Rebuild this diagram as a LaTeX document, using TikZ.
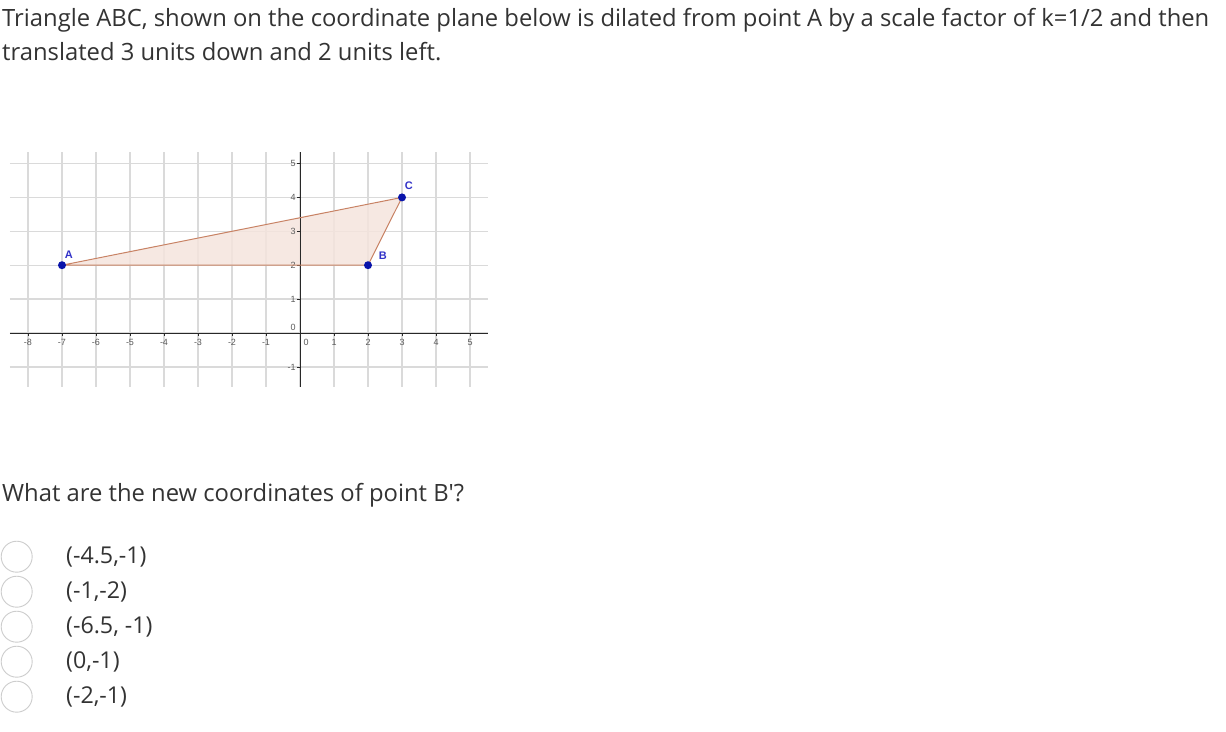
\documentclass[tikz,border=0pt]{standalone}
\usepackage{fontspec}
\setmainfont{Open Sans}
\newfontfamily\gfont{Liberation Sans}
\definecolor{txt}{RGB}{51,51,51}
\definecolor{gridc}{RGB}{218,218,218}
\definecolor{axisc}{RGB}{40,40,40}
\definecolor{trifill}{RGB}{245,228,221}
\definecolor{triline}{RGB}{200,130,100}
\definecolor{ptc}{RGB}{10,20,170}
\definecolor{ptlab}{RGB}{50,50,200}
\definecolor{circc}{RGB}{205,205,205}
\tikzset{
  maintext/.style={anchor=base west,inner sep=0pt,text=txt,font=\fontsize{23.8}{28}\selectfont},
  opttext/.style={anchor=west,inner sep=0pt,text=txt,font=\fontsize{23.2}{28}\selectfont},
  radio/.style={circle,draw=circc,line width=0.9pt,minimum size=31pt,inner sep=0pt},
  gridline/.style={draw=gridc,line width=1.3pt},
  axisline/.style={draw=axisc,line width=1pt},
  ticklab/.style={text=txt!80,font=\gfont\fontsize{9}{10}\selectfont,inner sep=0pt},
  ptdot/.style={circle,fill=ptc,minimum size=8pt,inner sep=0pt},
  ptname/.style={text=ptlab,font=\gfont\bfseries\fontsize{11}{12}\selectfont,inner sep=0pt},
}
\begin{document}
\begin{tikzpicture}[x=1pt,y=-1pt]
\useasboundingbox[fill=white] (0,0) rectangle (1226,731);
% header text
\node[maintext] (l1) at (2,26) {Triangle ABC, shown on the coordinate plane below is dilated from point A by a scale factor of k=1/2 and then};
\node[maintext] (l2) at (2,60) {translated 3 units down and 2 units left.};
% graph
\begin{scope}[shift={(300,333)},x=34pt,y=33.9pt]
  \foreach \i in {-8,...,5} \draw[gridline] (\i,-1.59) -- (\i,5.34);
  \foreach \j in {-1,...,5} \draw[gridline] (-8.53,\j) -- (5.53,\j);
  \coordinate (A) at (-7,2);
  \coordinate (B) at (2,2);
  \coordinate (C) at (3,4);
  \fill[trifill,opacity=0.85] (A) -- (B) -- (C) -- cycle;
  \draw[axisline] (-8.53,0) -- (5.53,0);
  \draw[axisline] (0,-1.59) -- (0,5.34);
  \foreach \i in {-8,...,-1,1,2,3,4,5} {
    \draw[axisc,line width=0.6pt] (\i,0) -- (\i,-0.08);
    \node[ticklab] at (\i,-0.27) {\i};
  }
  \node[ticklab] at (0.18,-0.27) {0};
  \foreach \j in {-1,1,2,3,4,5} {
    \draw[axisc,line width=0.6pt] (0,\j) -- (-0.09,\j);
    \node[ticklab,anchor=east] at (-0.12,\j) {\j};
  }
  \node[ticklab,anchor=east] at (-0.12,0.16) {0};
  \draw[triline,line width=1pt,line join=round] (A) -- (B) -- (C) -- cycle;
  \node[ptdot] (pA) at (A) {};
  \node[ptdot] (pB) at (B) {};
  \node[ptdot] (pC) at (C) {};
  \node[ptname] (nA) at (-6.8,2.31) {A};
  \node[ptname] (nB) at (2.44,2.27) {B};
  \node[ptname] (nC) at (3.2,4.35) {C};
\end{scope}
% question
\node[maintext] (q) at (2,501) {What are the new coordinates of point B\textquotesingle?};
% options
\node[radio] (r1) at (16.7,556.7) {};
\node[radio] (r2) at (16.7,591.7) {};
\node[radio] (r3) at (16.7,626.7) {};
\node[radio] (r4) at (16.7,661.7) {};
\node[radio] (r5) at (16.7,696.7) {};
\node[opttext] (o1) at (66,556.7) {(-4.5,-1)};
\node[opttext] (o2) at (66,591.7) {(-1,-2)};
\node[opttext] (o3) at (66,626.7) {(-6.5, -1)};
\node[opttext] (o4) at (66,661.7) {(0,-1)};
\node[opttext] (o5) at (66,696.7) {(-2,-1)};
\end{tikzpicture}
\end{document}
